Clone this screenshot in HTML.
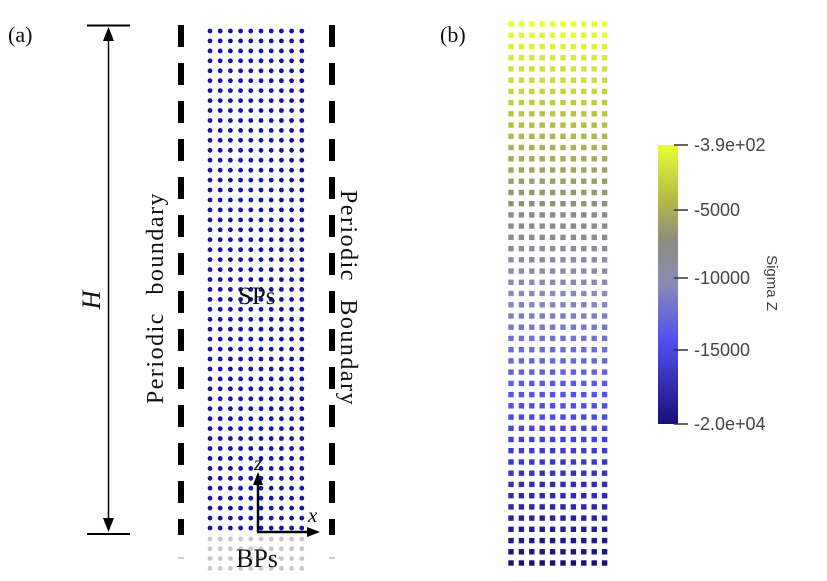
<!DOCTYPE html>
<html><head><meta charset="utf-8"><style>
html,body{margin:0;padding:0;background:#fff;width:827px;height:581px;overflow:hidden}
svg{display:block}
.serif{font-family:"Liberation Serif",serif;fill:#111}
</style></head><body>
<svg id="s" width="827" height="581" viewBox="0 0 827 581" xmlns="http://www.w3.org/2000/svg">
<defs>
<linearGradient id="cb" x1="0" y1="1" x2="0" y2="0">
<stop offset="0" stop-color="#1a0f78"/>
<stop offset="0.3" stop-color="#5050f0"/>
<stop offset="0.5" stop-color="#8a8ab8"/>
<stop offset="0.65" stop-color="#8c8c80"/>
<stop offset="0.8" stop-color="#b4b848"/>
<stop offset="1" stop-color="#e6ff33"/>
</linearGradient>
</defs>
<g id="dots"></g>
<text x="8" y="42" class="serif" font-size="22">(a)</text>
<text x="440" y="42" class="serif" font-size="22">(b)</text>
<line x1="87" y1="25.5" x2="130" y2="25.5" stroke="#000" stroke-width="2"/>
<line x1="87" y1="534" x2="130" y2="534" stroke="#000" stroke-width="2"/>
<line x1="108.5" y1="30" x2="108.5" y2="530" stroke="#000" stroke-width="1.5"/>
<polygon points="108.5,27 103,41 114,41" fill="#000"/>
<polygon points="108.5,532 103,518 114,518" fill="#000"/>
<text class="serif" font-size="26" font-style="italic" transform="translate(100,300) rotate(-90)" text-anchor="middle">H</text>
<text class="serif" font-size="24" letter-spacing="1.5" word-spacing="10" transform="translate(163,298) rotate(-90)" text-anchor="middle">Periodic boundary</text>
<text class="serif" font-size="24" letter-spacing="1.5" word-spacing="10" transform="translate(341,298) rotate(90)" text-anchor="middle">Periodic Boundary</text>
<g id="dash"></g>
<text x="238" y="304" class="serif" font-size="25">SPs</text>
<line x1="258" y1="532" x2="258" y2="482" stroke="#000" stroke-width="2.5"/>
<polygon points="258,472 253,485 263,485" fill="#000"/>
<line x1="257" y1="532" x2="310" y2="532" stroke="#000" stroke-width="2.5"/>
<polygon points="320,532 307,527 307,537" fill="#000"/>
<text x="254" y="470" class="serif" font-size="21" font-style="italic">z</text>
<text x="308" y="522" class="serif" font-size="21" font-style="italic">x</text>
<text x="236" y="567" class="serif" font-size="26">BPs</text>
<rect x="658" y="145" width="20" height="279" fill="url(#cb)"/>
<g stroke="#333" stroke-width="1.5">
<line x1="674" y1="145" x2="688" y2="145"/><line x1="674" y1="210" x2="688" y2="210"/>
<line x1="674" y1="278" x2="688" y2="278"/><line x1="674" y1="350" x2="688" y2="350"/>
<line x1="674" y1="424" x2="688" y2="424"/>
</g>
<g font-family="Liberation Sans,sans-serif" font-size="18" fill="#444">
<text x="694" y="151">-3.9e+02</text><text x="694" y="216">-5000</text>
<text x="694" y="284">-10000</text><text x="694" y="356">-15000</text>
<text x="694" y="430">-2.0e+04</text>
<text transform="translate(767,283) rotate(90)" text-anchor="middle" font-size="15">Sigma Z</text>
</g>
</svg>
<script>
var g=document.getElementById('dots'),h='';
for(var r=0;r<51;r++){var y=31+r*9.94;for(var c=0;c<10;c++){h+='<circle cx="'+(210+c*10.2).toFixed(1)+'" cy="'+y.toFixed(1)+'" r="2.4" fill="#1414a8"/>';}}
for(var r=0;r<4;r++){var y=539+r*9.8;for(var c=0;c<10;c++){h+='<circle cx="'+(210+c*10.2).toFixed(1)+'" cy="'+y.toFixed(1)+'" r="2.4" fill="#c8c8c8"/>';}}
var stops=[[0,[26,15,120]],[0.3,[80,80,240]],[0.5,[138,138,184]],[0.65,[140,140,128]],[0.8,[180,184,72]],[1,[230,255,51]]];
function col(t){for(var i=1;i<stops.length;i++){if(t<=stops[i][0]){var a=stops[i-1],b=stops[i],f=(t-a[0])/(b[0]-a[0]);return 'rgb('+a[1].map(function(v,k){return Math.round(v+(b[1][k]-v)*f)}).join(',')+')';}}return 'rgb(230,255,51)';}
for(var r=0;r<49;r++){var y=24+r*11.23,t=1-r/48,cl=col(t);for(var c=0;c<10;c++){h+='<rect x="'+(511+c*10.4-2.7).toFixed(1)+'" y="'+(y-2.7).toFixed(1)+'" width="5.4" height="5.4" fill="'+cl+'"/>';}}
g.innerHTML=h;
var d='';for(var y=25;y<535;y+=38){var e=Math.min(y+22,535);d+='<rect x="178" y="'+y+'" width="6" height="'+(e-y)+'" fill="#000"/><rect x="329" y="'+y+'" width="6" height="'+(e-y)+'" fill="#000"/>';}
d+='<line x1="178" y1="558" x2="184" y2="558" stroke="#999"/><line x1="329" y1="558" x2="335" y2="558" stroke="#999"/>';
document.getElementById('dash').innerHTML=d;
</script>
</body></html>
